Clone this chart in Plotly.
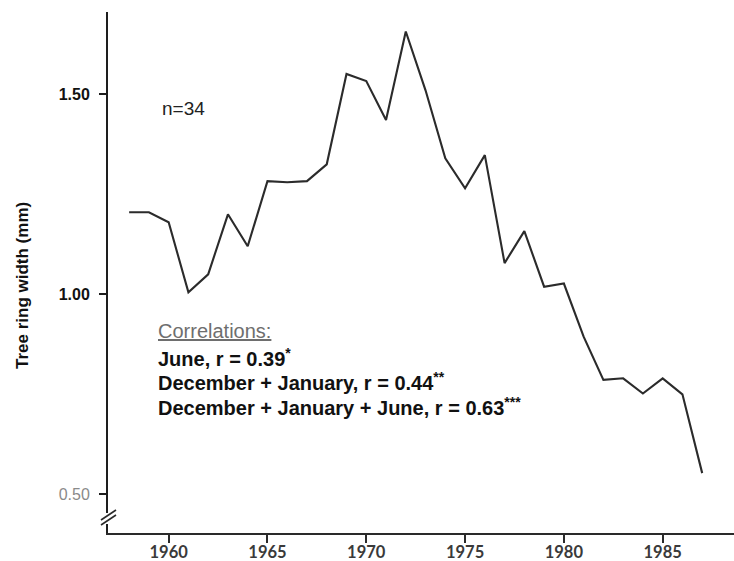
import plotly.graph_objects as go

# Annual mean tree ring width, 1958-1987
years = list(range(1958, 1988))
ring_width_mm = [1.205, 1.205, 1.18, 1.005, 1.05, 1.20, 1.12, 1.283, 1.28, 1.283,
                 1.325, 1.551, 1.533, 1.436, 1.657, 1.51, 1.34, 1.265, 1.348, 1.078,
                 1.158, 1.019, 1.027, 0.894, 0.786, 0.79, 0.752, 0.79, 0.75, 0.553]

x_ticks = [1960, 1965, 1970, 1975, 1980, 1985]
y_ticks = [0.50, 1.00, 1.50]
y_tick_text = ["<span style='color:#8a8a8a;font-weight:normal'>0.50</span>", "1.00", "1.50"]

y_title = "Tree ring width (mm)"
sample_note = "n=34"
corr_title = "Correlations:"
corr_lines = ["June, r = 0.39<sup>*</sup>",
              "December + January, r = 0.44<sup>**</sup>",
              "December + January + June, r = 0.63<sup>***</sup>"]

W, H = 734, 561
L, R, T, B = 108, 0, 12, 28


def px_x(px):
    return (px - L) / (W - L - R)


def px_y(py):
    return (H - B - py) / (H - T - B)


fig = go.Figure()
fig.add_trace(go.Scatter(
    x=years, y=ring_width_mm, mode="lines",
    line=dict(color="#2b2b2b", width=2.1),
    showlegend=False, hoverinfo="skip",
))

fig.update_layout(
    width=W, height=H,
    margin=dict(l=L, r=R, t=T, b=B, pad=0, autoexpand=False),
    paper_bgcolor="white", plot_bgcolor="white",
    font=dict(family="Liberation Sans, Arial, sans-serif", color="#111"),
    xaxis=dict(
        range=[1956.93, 1988.61], automargin=False,
        tickvals=x_ticks, ticktext=[str(v) for v in x_ticks],
        showgrid=False, zeroline=False,
        showline=True, linecolor="#2a2a2a", linewidth=2,
        ticks="outside", ticklen=8, tickwidth=1.6, tickcolor="#2a2a2a",
        tickfont=dict(family="Lato, Open Sans, sans-serif", size=16.5, color="#3a3a3a", weight="bold"),
        ticklabelstandoff=-5,
    ),
    yaxis=dict(
        range=[0.4033, 1.7058], automargin=False,
        tickvals=y_ticks, ticktext=y_tick_text,
        showgrid=False, zeroline=False,
        showline=True, linecolor="#1e1e1e", linewidth=2,
        ticks="outside", ticklen=7, tickwidth=2, tickcolor="#1e1e1e",
        tickfont=dict(family="Liberation Sans, Arial, sans-serif", size=16, color="#111", weight="bold"),
        ticklabelstandoff=6,
    ),
)

# value-axis title placed as rotated text
fig.add_annotation(xref="paper", yref="paper", x=px_x(23), y=px_y(286),
                   xanchor="center", yanchor="middle", showarrow=False, textangle=-90,
                   text=y_title,
                   font=dict(family="Liberation Sans, Arial, sans-serif", size=17, color="#111", weight="bold"))

# axis break on the value axis
fig.add_shape(type="rect", xref="paper", yref="paper",
              x0=px_x(104), x1=px_x(112), y0=px_y(524), y1=px_y(513),
              fillcolor="white", line=dict(width=0), layer="above")
for dy in (0, 5):
    fig.add_shape(type="line", xref="paper", yref="paper",
                  x0=px_x(101), y0=px_y(520 + dy), x1=px_x(116), y1=px_y(510 + dy),
                  line=dict(color="#2a2a2a", width=1.6), layer="above")

fig.add_annotation(xref="paper", yref="paper", x=px_x(160), y=px_y(108),
                   xanchor="left", yanchor="middle", showarrow=False,
                   text=sample_note, font=dict(size=19, color="#222"))

fig.add_annotation(xref="paper", yref="paper", x=px_x(156), y=px_y(331),
                   xanchor="left", yanchor="middle", showarrow=False,
                   text="<u>" + corr_title + "</u>", font=dict(size=20, color="#6e6e6e"))
for i, line in enumerate(corr_lines):
    fig.add_annotation(xref="paper", yref="paper", x=px_x(156), y=px_y(357 + 24.5 * i),
                       xanchor="left", yanchor="middle", showarrow=False,
                       text=line, font=dict(size=20, color="#111", weight="bold"))

fig.write_html("out.html")
